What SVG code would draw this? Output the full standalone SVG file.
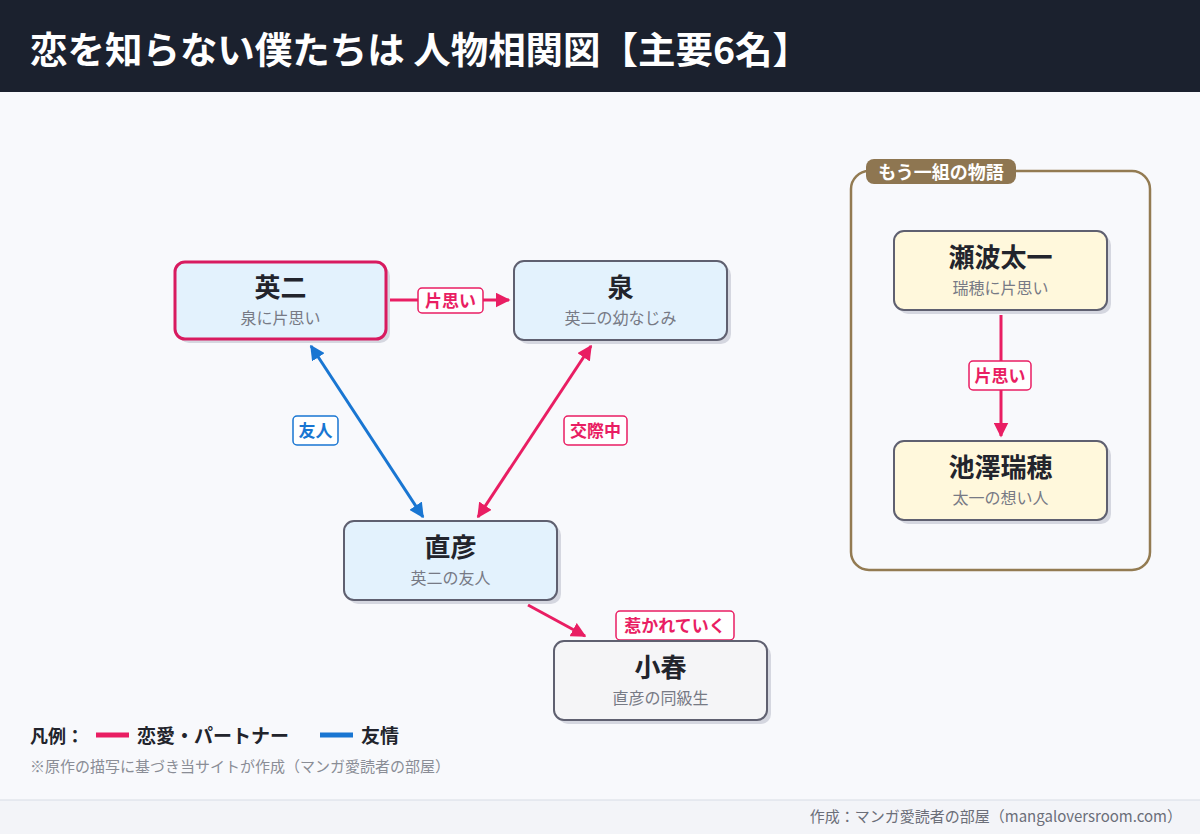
<svg xmlns="http://www.w3.org/2000/svg" width="1200" height="834" viewBox="0 0 1200 834">
<defs>
<style>
text{font-family:"Noto Sans CJK JP","Noto Sans",sans-serif}
.nb{stroke:#5f6070;stroke-width:2}
.sh{fill:#d5d7e0}
.nm{font-size:26px;font-weight:700;fill:#22242c;text-anchor:middle}
.sb{font-size:16px;fill:#777a85;text-anchor:middle}
.pk{stroke:#e91e63;stroke-width:3;fill:none}
.bl{stroke:#1976d2;stroke-width:3;fill:none}
.lbp{fill:#fff;stroke:#e91e63;stroke-width:1.5}
.lbb{fill:#fff;stroke:#1976d2;stroke-width:1.5}
.lt{font-size:17px;font-weight:700;text-anchor:middle}
</style>
<marker id="ap" viewBox="0 0 10 10" refX="9" refY="5" markerWidth="5" markerHeight="5" orient="auto-start-reverse"><path d="M0,0L10,5L0,10z" fill="#e91e63"/></marker>
<marker id="ab" viewBox="0 0 10 10" refX="9" refY="5" markerWidth="5" markerHeight="5" orient="auto-start-reverse"><path d="M0,0L10,5L0,10z" fill="#1976d2"/></marker>
</defs>
<rect width="1200" height="834" fill="#f8f9fc"/>
<rect width="1200" height="92" fill="#1b212e"/>
<text x="30" y="64" font-size="37" font-weight="700" fill="#fff" textLength="780" lengthAdjust="spacingAndGlyphs">恋を知らない僕たちは 人物相関図【主要6名】</text>
<rect x="0" y="800" width="1200" height="34" fill="#f3f4f8"/>
<line x1="0" y1="800" x2="1200" y2="800" stroke="#d8dce5" stroke-width="1"/>

<g id="group-other">
<rect x="851" y="171" width="299" height="399" rx="18" fill="none" stroke="#937b52" stroke-width="2.5"/>
<rect x="866" y="159" width="150" height="25" rx="8" fill="#8e7651"/>
<text x="941" y="179" font-size="18" font-weight="700" fill="#fff" text-anchor="middle">もう一組の物語</text>
</g>

<g id="connectors">
<line class="pk" x1="388" y1="300" x2="509" y2="300" marker-end="url(#ap)"/>
<line class="bl" x1="311" y1="346" x2="423" y2="517" marker-start="url(#ab)" marker-end="url(#ab)"/>
<line class="pk" x1="591" y1="346" x2="478" y2="517" marker-start="url(#ap)" marker-end="url(#ap)"/>
<line class="pk" x1="528" y1="605" x2="585" y2="636" marker-end="url(#ap)"/>
<line class="pk" x1="1001" y1="315" x2="1001" y2="436" marker-end="url(#ap)"/>
<rect class="lbp" x="418" y="288" width="65" height="25" rx="4"/>
<text class="lt" x="450.5" y="307" fill="#e91e63">片思い</text>
<rect class="lbb" x="293" y="416" width="45" height="29" rx="4"/>
<text class="lt" x="315.5" y="437" fill="#1976d2">友人</text>
<rect class="lbp" x="564" y="416" width="63" height="29" rx="4"/>
<text class="lt" x="595.5" y="437" fill="#e91e63">交際中</text>
<rect class="lbp" x="616" y="611" width="118" height="29" rx="4"/>
<text class="lt" x="675" y="632" fill="#e91e63">惹かれていく</text>
<rect class="lbp" x="969" y="361" width="62" height="29" rx="4"/>
<text class="lt" x="1000" y="382" fill="#e91e63">片思い</text>
</g>

<g id="node-eiji">
<rect class="sh" x="179" y="266" width="211" height="77" rx="10"/>
<rect x="175" y="262" width="211" height="77" rx="10" fill="#e3f2fd" stroke="#d81b60" stroke-width="3"/>
<text class="nm" x="280.5" y="297">英二</text>
<text class="sb" x="280.5" y="324">泉に片思い</text>
</g>
<g id="node-izumi">
<rect class="sh" x="518" y="265" width="213" height="79" rx="10"/>
<rect class="nb" x="514" y="261" width="213" height="79" rx="10" fill="#e3f2fd"/>
<text class="nm" x="620.5" y="297">泉</text>
<text class="sb" x="620.5" y="324">英二の幼なじみ</text>
</g>
<g id="node-naohiko">
<rect class="sh" x="348" y="525" width="213" height="79" rx="10"/>
<rect class="nb" x="344" y="521" width="213" height="79" rx="10" fill="#e3f2fd"/>
<text class="nm" x="450.5" y="557">直彦</text>
<text class="sb" x="450.5" y="584">英二の友人</text>
</g>
<g id="node-koharu">
<rect class="sh" x="558" y="645" width="213" height="79" rx="10"/>
<rect class="nb" x="554" y="641" width="213" height="79" rx="10" fill="#f5f5f7"/>
<text class="nm" x="660.5" y="677">小春</text>
<text class="sb" x="660.5" y="704">直彦の同級生</text>
</g>
<g id="node-senami">
<rect class="sh" x="898" y="235" width="213" height="79" rx="10"/>
<rect class="nb" x="894" y="231" width="213" height="79" rx="10" fill="#fff8dc"/>
<text class="nm" x="1000.5" y="267">瀬波太一</text>
<text class="sb" x="1000.5" y="294">瑞穂に片思い</text>
</g>
<g id="node-mizuho">
<rect class="sh" x="898" y="445" width="213" height="79" rx="10"/>
<rect class="nb" x="894" y="441" width="213" height="79" rx="10" fill="#fff8dc"/>
<text class="nm" x="1000.5" y="477">池澤瑞穂</text>
<text class="sb" x="1000.5" y="504">太一の想い人</text>
</g>

<g id="legend">
<text x="30" y="743" font-size="18" font-weight="700" fill="#22242c">凡例：</text>
<line x1="96" y1="735" x2="129" y2="735" stroke="#e91e63" stroke-width="5"/>
<text x="137" y="743" font-size="19" font-weight="700" fill="#22242c">恋愛・パートナー</text>
<line x1="320" y1="735" x2="353" y2="735" stroke="#1976d2" stroke-width="5"/>
<text x="361" y="743" font-size="19" font-weight="700" fill="#22242c">友情</text>
<text x="30" y="772" font-size="15" fill="#8a8d96">※原作の描写に基づき当サイトが作成（マンガ愛読者の部屋）</text>
</g>
<text x="1182" y="822" font-size="15" fill="#6b6e78" text-anchor="end">作成：マンガ愛読者の部屋（mangaloversroom.com）</text>
</svg>
